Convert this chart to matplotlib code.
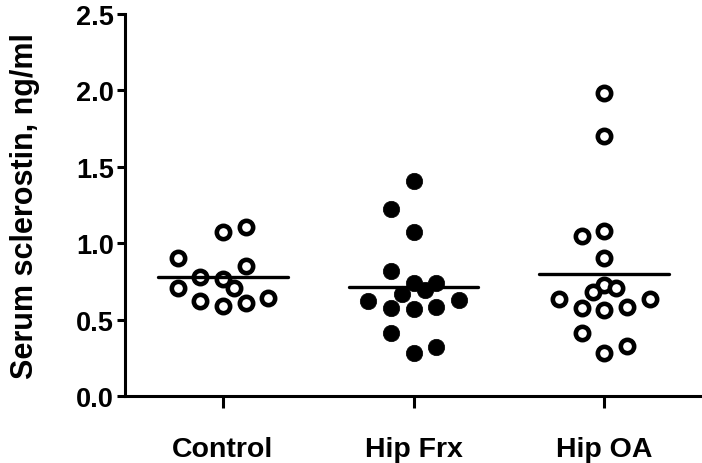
import numpy as np
import matplotlib
matplotlib.use("Agg")
import matplotlib.pyplot as plt

plt.rcParams['font.family'] = ['Liberation Sans', 'DejaVu Sans']
plt.rcParams['font.weight'] = 'bold'

categories = ["Control", "Hip Frx", "Hip OA"]

control_vals = [1.075, 1.108, 0.90, 0.851, 0.781, 0.764, 0.71, 0.705, 0.622, 0.589, 0.607, 0.644]
control_slot = [0, 1, -2, 1, -1, 0, 0.5, -2, -1, 0, 1, 2]

hipfrx_vals = [1.408, 1.223, 1.075, 0.818, 0.738, 0.738, 0.694, 0.666, 0.622, 0.629, 0.574, 0.570, 0.585, 0.411, 0.320, 0.281]
hipfrx_slot = [0, -1, 0, -1, 0, 1, 0.5, -0.5, -2, 2, -1, 0, 1, -1, 1, 0]

hipoa_vals = [1.984, 1.699, 1.049, 1.079, 0.901, 0.727, 0.683, 0.705, 0.633, 0.633, 0.574, 0.563, 0.585, 0.411, 0.324, 0.281]
hipoa_slot = [0, 0, -1, 0, 0, 0, -0.5, 0.5, -2, 2, -1, 0, 1, -1, 1, 0]

mean_vals = [0.781, 0.716, 0.798]

yticks = [0.0, 0.5, 1.0, 1.5, 2.0, 2.5]
ytick_labels = ["0.0", "0.5", "1.0", "1.5", "2.0", "2.5"]

W, H = 702, 464
fig = plt.figure(figsize=(W / 100, H / 100), dpi=100)
ax = fig.add_axes([125 / W, 67 / H, (700 - 125) / W, (449 - 67) / H])

slot_w = 0.1193
groups = [(control_vals, control_slot, 'white'),
          (hipfrx_vals, hipfrx_slot, 'black'),
          (hipoa_vals, hipoa_slot, 'white')]
for i, (vals, slots, fc) in enumerate(groups):
    x = (i + 1) + np.array(slots) * slot_w
    if fc == 'white':
        ax.plot(x, vals, 'o', ms=9.6, mfc='white', mec='black', mew=3.3, zorder=3, clip_on=False)
    else:
        ax.plot(x, vals, 'o', ms=11.8, mfc='black', mec='black', mew=0.5, zorder=3, clip_on=False)
    ax.plot([i + 1 - 0.34, i + 1 + 0.34], [mean_vals[i], mean_vals[i]], color='black', lw=2.4,
            solid_capstyle='round', zorder=4)

ax.set_xlim(0.486, 3.502)
ax.set_ylim(0, 2.5)
ax.set_xticks([1, 2, 3])
ax.set_xticklabels(categories, fontsize=20.5, fontweight='bold')
ax.set_yticks(yticks)
ax.set_yticklabels(ytick_labels, fontsize=19.5, fontweight='bold')
ax.spines['top'].set_visible(False)
ax.spines['right'].set_visible(False)
for s in ['left', 'bottom']:
    ax.spines[s].set_linewidth(2.2)
ax.tick_params(axis='y', length=6, width=2.2, pad=2)
ax.tick_params(axis='x', length=8.5, width=2.2, pad=20)
ax.set_ylabel("Serum sclerostin, ng/ml", fontsize=22, fontweight='bold', labelpad=26)

fig.savefig("out.png", dpi=100)
